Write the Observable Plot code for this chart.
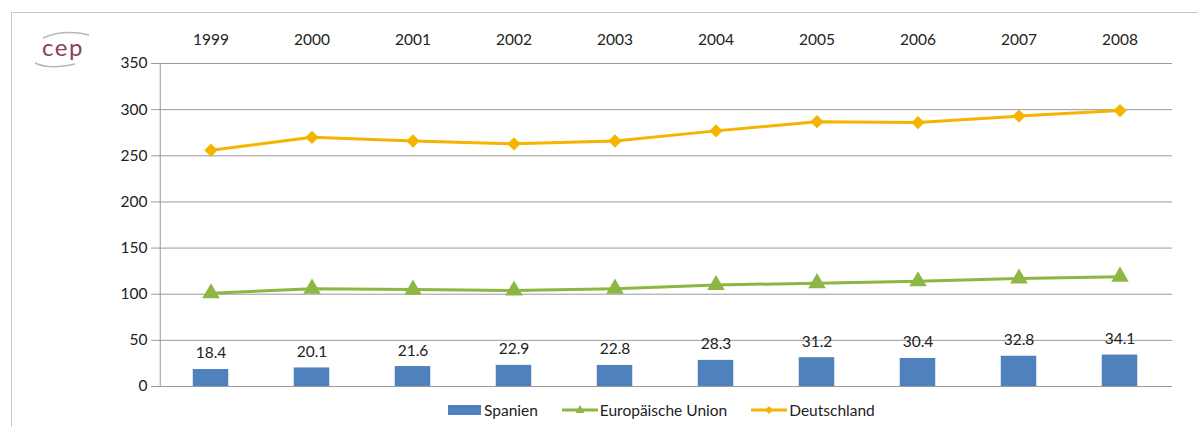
<!DOCTYPE html>
<html>
<head>
<meta charset="utf-8">
<script src="https://cdn.jsdelivr.net/npm/d3@7"></script>
<script src="https://cdn.jsdelivr.net/npm/@observablehq/plot@0.6"></script>
<style>
  html, body { margin: 0; padding: 0; background: #fff; }
  body { width: 1198px; height: 427px; position: relative; overflow: hidden; font-family: Lato, "Open Sans", sans-serif; }
  #frame { position: absolute; left: 11px; top: 12px; right: -2px; bottom: -2px; border-left: 1.5px solid #c9c9c9; border-top: 1.5px solid #c9c9c9; }
  #chart { position: absolute; left: 0; top: 0; }
  #logo { position: absolute; left: 29px; top: 29px; }
  #legend { position: absolute; left: 448px; top: 401px; height: 18px; display: flex; align-items: center; font-size: 15.5px; color: #222; }
  .item { display: flex; align-items: center; gap: 2px; margin-right: 24px; }
</style>
</head>
<body>
<div id="frame"></div>
<svg id="logo" width="70" height="44" viewBox="0 0 70 44">
  <path d="M 14 9 Q 35 0 60 6" fill="none" stroke="#b8b8b8" stroke-width="1.5"/>
  <text x="34" y="27" text-anchor="middle" font-size="24" fill="#8c3d5c" font-family="Lato, sans-serif" letter-spacing="1.5">cep</text>
  <path d="M 6 34 Q 20 41 46 35" fill="none" stroke="#b8b8b8" stroke-width="1.5"/>
</svg>
<div id="chart"></div>
<div id="legend"></div>
<script>
const years = ["1999", "2000", "2001", "2002", "2003", "2004", "2005", "2006", "2007", "2008"];
const spanien = [18.4, 20.1, 21.6, 22.9, 22.8, 28.3, 31.2, 30.4, 32.8, 34.1];
const eu = [101, 106, 105, 104, 106, 110, 112, 114, 117, 119];
const deutschland = [256, 270, 266, 263, 266, 277, 287, 286, 293, 299];
const yTicks = [0, 50, 100, 150, 200, 250, 300, 350];

const seriesNames = ["Spanien", "Europäische Union", "Deutschland"];
const colors = {bar: "#4f81bd", eu: "#8db644", de: "#f4b400"};

const barData = years.map((y, i) => ({year: y, value: spanien[i]}));
const euData = years.map((y, i) => ({year: y, value: eu[i]}));
const deData = years.map((y, i) => ({year: y, value: deutschland[i]}));

const width = 1198, marginLeft = 157, marginRight = 26;
const step = (width - marginLeft - marginRight) / years.length;
const barWidth = 36;
const fontSize = 15.5;

const chart = Plot.plot({
  width,
  height: 400,
  marginLeft,
  marginRight,
  marginTop: 63,
  marginBottom: 14,
  style: {fontFamily: "Lato, 'Open Sans', sans-serif", fontSize: `${fontSize}px`, color: "#222", background: "transparent"},
  x: {domain: years, padding: 0, label: null},
  y: {domain: [0, 350], label: null},
  marks: [
    Plot.gridY(yTicks, {stroke: "#9a9a9a", strokeOpacity: 1, strokeWidth: 1}),
    Plot.axisY(yTicks, {tickSize: 6, tickPadding: 4, stroke: "#9a9a9a", fontSize, fill: "#222"}),
    Plot.axisX({anchor: "top", tickSize: 0, tickPadding: 19, fontSize, fill: "#222"}),
    Plot.ruleX([years[0]], {x: d => d, dx: -step / 2, y1: 0, y2: 350, stroke: "#9a9a9a"}),
    Plot.barY(barData, {x: "year", y: "value", fill: colors.bar, insetLeft: (step - barWidth) / 2, insetRight: (step - barWidth) / 2}),
    Plot.ruleY([0], {stroke: "#9a9a9a"}),
    // Category boundary ticks below the baseline
    Plot.ruleX(years, {x: d => d, y1: 0, y2: 0, dx: -step / 2, stroke: "#9a9a9a", ariaLabel: "boundary-tick"}),
    Plot.ruleX([years[years.length - 1]], {x: d => d, y1: 0, y2: 0, dx: step / 2, stroke: "#9a9a9a", ariaLabel: "boundary-tick"}),
    Plot.text(barData, {x: "year", y: "value", text: d => d.value.toFixed(1), dy: -16, fontSize, fill: "#222"}),
    Plot.line(euData, {x: "year", y: "value", stroke: colors.eu, strokeWidth: 3}),
    Plot.dot(euData, {x: "year", y: "value", symbol: "triangle", r: 6.5, fill: colors.eu, stroke: null}),
    Plot.line(deData, {x: "year", y: "value", stroke: colors.de, strokeWidth: 3}),
    Plot.dot(deData, {x: "year", y: "value", symbol: "diamond2", r: 6, fill: colors.de, stroke: null})
  ]
});
document.getElementById("chart").appendChild(chart);

// Let the boundary ticks hang below the baseline
const y0 = chart.scale("y").apply(0);
chart.querySelectorAll("g[aria-label='boundary-tick'] line").forEach(l => {
  l.setAttribute("y1", y0);
  l.setAttribute("y2", y0 + 6);
});

// Legend
const legend = document.getElementById("legend");
const swatches = [
  `<svg width="34" height="12"><rect x="0" y="1" width="33" height="10" fill="${colors.bar}"/></svg>`,
  `<svg width="36" height="14"><line x1="0" y1="7" x2="36" y2="7" stroke="${colors.eu}" stroke-width="3"/><path d="M18 2 L22.5 10 L13.5 10 Z" fill="${colors.eu}"/></svg>`,
  `<svg width="36" height="14"><line x1="0" y1="7" x2="36" y2="7" stroke="${colors.de}" stroke-width="3"/><path d="M18 3 L22 7 L18 11 L14 7 Z" fill="${colors.de}"/></svg>`
];
seriesNames.forEach((name, i) => {
  const el = document.createElement("div");
  el.className = "item";
  el.innerHTML = swatches[i] + `<span>${name}</span>`;
  legend.appendChild(el);
});
</script>
</body>
</html>
